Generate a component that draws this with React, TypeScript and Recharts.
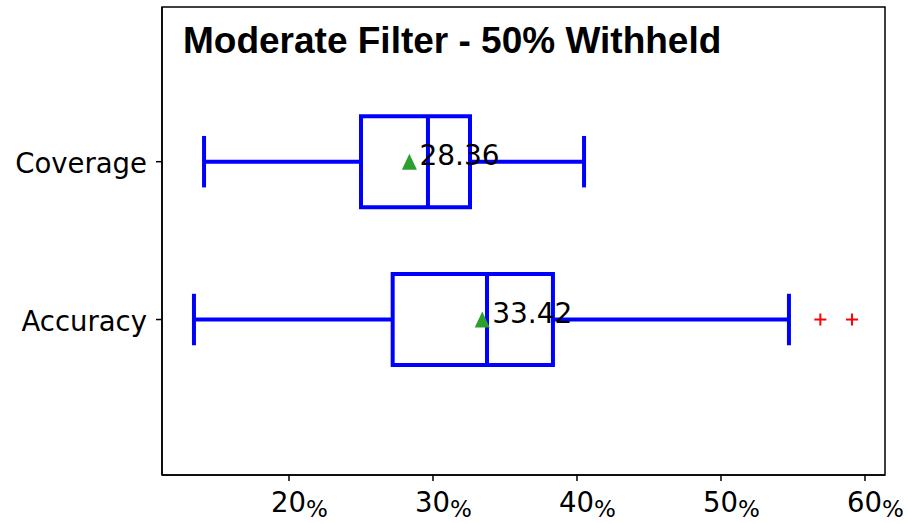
import React from 'react';
import {
  ScatterChart,
  Scatter,
  XAxis,
  YAxis,
  ReferenceArea,
  ReferenceLine,
  LabelList,
} from 'recharts';

// values (percent)
const categories = ['Accuracy', 'Coverage'];
const positions = [1, 2];
const whiskerLow = [13.4, 14.1];
const q1 = [27.2, 25.0];
const medians = [33.75, 29.65];
const q3 = [38.33, 32.57];
const whiskerHigh = [54.72, 40.49];
const means = [33.42, 28.36];
const outliers = [
  [56.9, 59.1], // Accuracy
  [], // Coverage
];
const xTicks = [20, 30, 40, 50, 60];
const title = 'Moderate Filter - 50% Withheld';

const X_DOMAIN: [number, number] = [11.18, 61.39];
const Y_DOMAIN: [number, number] = [0.015, 2.98];

const BLUE = '#0000ff';
const BOX_HALF = 0.288;
const CAP_HALF = 0.163;
const FONT = '"DejaVu Sans", sans-serif';

const meanData = positions.map((p, i) => ({ x: means[i], y: p }));
const outlierData = positions.flatMap((p, i) => outliers[i].map((v) => ({ x: v, y: p })));

const Triangle = (props: any) => {
  const { cx, cy } = props;
  return <polygon points={`${cx - 7.5},${cy + 8} ${cx + 7.5},${cy + 8} ${cx},${cy - 8}`} fill="#2ca02c" />;
};

const Plus = (props: any) => {
  const { cx, cy } = props;
  return (
    <g stroke="#ff0000" strokeWidth={2}>
      <line x1={cx - 6} y1={cy} x2={cx + 6} y2={cy} />
      <line x1={cx} y1={cy - 6} x2={cx} y2={cy + 6} />
    </g>
  );
};

const XTick = (props: any) => {
  const { x, y, payload } = props;
  return (
    <text x={x - 18} y={y + 29} fontFamily={FONT} fontSize={27.5} fill="#000" textAnchor="start">
      {payload.value}
      <tspan fontSize={23} dy={5}>%</tspan>
    </text>
  );
};

const YTick = (props: any) => {
  const { x, y, payload } = props;
  const idx = positions.indexOf(payload.value);
  return (
    <text x={x - 7} y={y + 11} fontFamily={FONT} fontSize={27.5} fill="#000" textAnchor="end">
      {categories[idx]}
    </text>
  );
};

const MeanLabel = (props: any) => {
  const { x, y, width, height, value } = props;
  const cx = x + (width || 0) / 2;
  const cy = y + (height || 0) / 2;
  return (
    <text x={cx + 10} y={cy + 3} fontFamily={FONT} fontSize={28} fill="#000">
      {Number(value).toFixed(2)}
    </text>
  );
};

export default function App() {
  return (
    <div style={{ position: 'absolute', left: 0, top: 0, width: 908, height: 524, background: '#fff' }}>
      <ScatterChart width={908} height={524} margin={{ top: 7, right: 23, bottom: 0, left: 0 }}>
        <XAxis
          type="number"
          dataKey="x"
          domain={X_DOMAIN}
          ticks={xTicks}
          allowDataOverflow
          height={49}
          tick={<XTick />}
          tickSize={6}
          axisLine={{ stroke: '#000', strokeWidth: 1.5 }}
          tickLine={{ stroke: '#000', strokeWidth: 1.5 }}
        />
        <YAxis
          type="number"
          dataKey="y"
          domain={Y_DOMAIN}
          ticks={positions}
          allowDataOverflow
          width={162}
          tick={<YTick />}
          tickSize={6}
          axisLine={{ stroke: '#000', strokeWidth: 1.5 }}
          tickLine={{ stroke: '#000', strokeWidth: 1.5 }}
        />

        {/* axes frame around the whole plot area */}
        <ReferenceArea
          x1={X_DOMAIN[0]}
          x2={X_DOMAIN[1]}
          y1={Y_DOMAIN[0]}
          y2={Y_DOMAIN[1]}
          ifOverflow="visible"
          fill="none"
          fillOpacity={0}
          stroke="#000"
          strokeWidth={1.5}
          strokeOpacity={1}
        />

        {positions.map((p, i) => (
          <ReferenceArea
            key={`box-${i}`}
            x1={q1[i]}
            x2={q3[i]}
            y1={p - BOX_HALF}
            y2={p + BOX_HALF}
            fill="none"
            fillOpacity={0}
            stroke={BLUE}
            strokeWidth={4}
            strokeOpacity={1}
          />
        ))}
        {positions.map((p, i) => (
          <ReferenceLine
            key={`wl-${i}`}
            segment={[{ x: whiskerLow[i], y: p }, { x: q1[i], y: p }]}
            stroke={BLUE}
            strokeWidth={4}
          />
        ))}
        {positions.map((p, i) => (
          <ReferenceLine
            key={`wh-${i}`}
            segment={[{ x: q3[i], y: p }, { x: whiskerHigh[i], y: p }]}
            stroke={BLUE}
            strokeWidth={4}
          />
        ))}
        {positions.map((p, i) => (
          <ReferenceLine
            key={`cl-${i}`}
            segment={[{ x: whiskerLow[i], y: p - CAP_HALF }, { x: whiskerLow[i], y: p + CAP_HALF }]}
            stroke={BLUE}
            strokeWidth={4}
          />
        ))}
        {positions.map((p, i) => (
          <ReferenceLine
            key={`ch-${i}`}
            segment={[{ x: whiskerHigh[i], y: p - CAP_HALF }, { x: whiskerHigh[i], y: p + CAP_HALF }]}
            stroke={BLUE}
            strokeWidth={4}
          />
        ))}
        {positions.map((p, i) => (
          <ReferenceLine
            key={`md-${i}`}
            segment={[{ x: medians[i], y: p - BOX_HALF }, { x: medians[i], y: p + BOX_HALF }]}
            stroke={BLUE}
            strokeWidth={4}
          />
        ))}

        <Scatter data={outlierData} shape={<Plus />} isAnimationActive={false} />
        <Scatter data={meanData} shape={<Triangle />} isAnimationActive={false}>
          <LabelList dataKey="x" content={<MeanLabel />} />
        </Scatter>
      </ScatterChart>
      <svg width={908} height={80} style={{ position: 'absolute', left: 0, top: 0, pointerEvents: 'none' }}>
        <text x={183} y={53} fontFamily='"Liberation Sans", sans-serif' fontWeight="bold" fontSize={37} fill="#000">
          {title}
        </text>
      </svg>
    </div>
  );
}
